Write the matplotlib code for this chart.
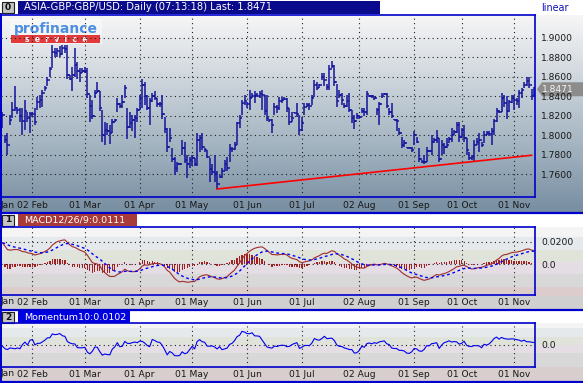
import numpy as np
import pandas as pd
import matplotlib
matplotlib.use("Agg")
import matplotlib.pyplot as plt
from matplotlib.patches import Rectangle, Polygon

plt.rcParams["font.family"] = ["DejaVu Sans"]

W, H = 583, 383

# daily GBP/USD bars, mid Jan .. mid Nov
highs = [
    1.824, 1.800, 1.802, 1.821, 1.834, 1.850, 1.829, 1.828, 1.828, 1.836,
    1.824, 1.824, 1.824, 1.828, 1.839, 1.841, 1.846, 1.850, 1.860, 1.870,
    1.893, 1.889, 1.889, 1.891, 1.893, 1.893, 1.893, 1.862, 1.870, 1.889,
    1.875, 1.869, 1.869, 1.870, 1.869, 1.841, 1.836, 1.846, 1.855, 1.845,
    1.826, 1.814, 1.812, 1.810, 1.817, 1.817, 1.838, 1.833, 1.841, 1.852,
    1.828, 1.824, 1.821, 1.821, 1.828, 1.841, 1.858, 1.855, 1.841, 1.838,
    1.843, 1.845, 1.838, 1.834, 1.841, 1.819, 1.807, 1.807, 1.787, 1.778,
    1.773, 1.771, 1.795, 1.793, 1.780, 1.778, 1.780, 1.777, 1.802, 1.800,
    1.802, 1.787, 1.785, 1.777, 1.770, 1.780, 1.763, 1.759, 1.766, 1.775,
    1.778, 1.791, 1.788, 1.793, 1.814, 1.821, 1.836, 1.841, 1.834, 1.846,
    1.843, 1.845, 1.843, 1.845, 1.846, 1.841, 1.841, 1.817, 1.817, 1.833,
    1.831, 1.839, 1.839, 1.839, 1.838, 1.828, 1.824, 1.824, 1.833, 1.821,
    1.819, 1.833, 1.833, 1.833, 1.841, 1.857, 1.855, 1.853, 1.864, 1.864,
    1.853, 1.872, 1.876, 1.872, 1.853, 1.846, 1.843, 1.833, 1.841, 1.843,
    1.826, 1.821, 1.823, 1.821, 1.828, 1.828, 1.845, 1.841, 1.841, 1.840,
    1.828, 1.834, 1.843, 1.843, 1.843, 1.828, 1.833, 1.817, 1.817, 1.807,
    1.798, 1.795, 1.788, 1.788, 1.788, 1.804, 1.798, 1.787, 1.775, 1.780,
    1.788, 1.785, 1.800, 1.797, 1.805, 1.797, 1.795, 1.792, 1.797, 1.798,
    1.807, 1.805, 1.814, 1.814, 1.807, 1.810, 1.797, 1.783, 1.780, 1.795,
    1.797, 1.802, 1.793, 1.804, 1.804, 1.804, 1.807, 1.817, 1.828, 1.826,
    1.843, 1.841, 1.840, 1.836, 1.841, 1.841, 1.838, 1.846, 1.848, 1.855,
    1.860, 1.860, 1.847, 1.849,
]
lows = [
    1.807, 1.792, 1.780, 1.810, 1.818, 1.825, 1.822, 1.814, 1.800, 1.805,
    1.814, 1.802, 1.819, 1.810, 1.826, 1.828, 1.829, 1.845, 1.850, 1.860,
    1.869, 1.880, 1.880, 1.880, 1.882, 1.884, 1.858, 1.857, 1.845, 1.860,
    1.858, 1.855, 1.864, 1.864, 1.838, 1.814, 1.817, 1.838, 1.843, 1.825,
    1.793, 1.790, 1.800, 1.791, 1.802, 1.814, 1.824, 1.828, 1.828, 1.838,
    1.796, 1.807, 1.804, 1.797, 1.814, 1.826, 1.828, 1.831, 1.826, 1.810,
    1.834, 1.836, 1.829, 1.829, 1.817, 1.802, 1.783, 1.793, 1.773, 1.759,
    1.762, 1.769, 1.780, 1.771, 1.756, 1.766, 1.768, 1.768, 1.768, 1.783,
    1.785, 1.783, 1.777, 1.752, 1.759, 1.752, 1.745, 1.756, 1.756, 1.763,
    1.763, 1.773, 1.783, 1.785, 1.790, 1.807, 1.821, 1.831, 1.828, 1.826,
    1.838, 1.833, 1.839, 1.838, 1.826, 1.821, 1.815, 1.814, 1.802, 1.821,
    1.823, 1.826, 1.833, 1.836, 1.824, 1.810, 1.814, 1.823, 1.819, 1.800,
    1.804, 1.821, 1.829, 1.826, 1.831, 1.839, 1.846, 1.848, 1.857, 1.850,
    1.846, 1.846, 1.869, 1.850, 1.829, 1.838, 1.831, 1.828, 1.829, 1.824,
    1.812, 1.806, 1.817, 1.817, 1.823, 1.820, 1.821, 1.839, 1.838, 1.836,
    1.821, 1.810, 1.838, 1.841, 1.828, 1.821, 1.818, 1.816, 1.804, 1.800,
    1.787, 1.788, 1.787, 1.787, 1.783, 1.790, 1.792, 1.773, 1.771, 1.770,
    1.773, 1.783, 1.780, 1.792, 1.792, 1.773, 1.780, 1.781, 1.787, 1.792,
    1.793, 1.800, 1.802, 1.793, 1.797, 1.793, 1.780, 1.775, 1.775, 1.773,
    1.790, 1.783, 1.788, 1.792, 1.800, 1.799, 1.790, 1.800, 1.814, 1.823,
    1.824, 1.829, 1.817, 1.824, 1.833, 1.826, 1.831, 1.828, 1.838, 1.848,
    1.850, 1.848, 1.836, 1.839,
]
closes = [
    1.821, 1.795, 1.790, 1.816, 1.826, 1.828, 1.826, 1.820, 1.815, 1.825,
    1.818, 1.822, 1.822, 1.814, 1.834, 1.836, 1.843, 1.848, 1.857, 1.868,
    1.885, 1.884, 1.886, 1.883, 1.889, 1.888, 1.862, 1.858, 1.862, 1.872,
    1.866, 1.864, 1.866, 1.866, 1.842, 1.830, 1.820, 1.843, 1.845, 1.828,
    1.800, 1.805, 1.804, 1.802, 1.814, 1.816, 1.832, 1.830, 1.834, 1.848,
    1.808, 1.812, 1.816, 1.818, 1.826, 1.838, 1.852, 1.840, 1.828, 1.835,
    1.840, 1.838, 1.832, 1.832, 1.822, 1.806, 1.788, 1.797, 1.776, 1.766,
    1.770, 1.770, 1.787, 1.775, 1.770, 1.775, 1.777, 1.770, 1.795, 1.797,
    1.788, 1.785, 1.778, 1.765, 1.762, 1.760, 1.750, 1.757, 1.763, 1.770,
    1.766, 1.786, 1.786, 1.790, 1.812, 1.818, 1.833, 1.835, 1.832, 1.838,
    1.840, 1.841, 1.840, 1.842, 1.841, 1.825, 1.818, 1.816, 1.810, 1.829,
    1.828, 1.835, 1.836, 1.837, 1.828, 1.814, 1.818, 1.823, 1.822, 1.805,
    1.812, 1.829, 1.831, 1.830, 1.838, 1.852, 1.848, 1.851, 1.860, 1.857,
    1.849, 1.868, 1.871, 1.855, 1.835, 1.841, 1.836, 1.830, 1.835, 1.826,
    1.818, 1.815, 1.820, 1.819, 1.825, 1.824, 1.842, 1.840, 1.840, 1.838,
    1.826, 1.832, 1.840, 1.842, 1.830, 1.824, 1.820, 1.816, 1.815, 1.802,
    1.790, 1.792, 1.787, 1.787, 1.785, 1.800, 1.793, 1.776, 1.773, 1.772,
    1.784, 1.784, 1.793, 1.795, 1.797, 1.776, 1.790, 1.788, 1.790, 1.796,
    1.800, 1.803, 1.810, 1.798, 1.805, 1.797, 1.785, 1.777, 1.778, 1.790,
    1.793, 1.795, 1.790, 1.800, 1.802, 1.801, 1.804, 1.815, 1.825, 1.824,
    1.838, 1.833, 1.825, 1.834, 1.838, 1.836, 1.835, 1.843, 1.846, 1.852,
    1.856, 1.851, 1.840, 1.8471,
]
# closes of the 10 sessions before the first bar (for Momentum10)
prior_closes = [1.831, 1.821, 1.821, 1.837, 1.849, 1.854, 1.847, 1.846, 1.815, 1.809]

# EMA state at the first bar (MACD 12/26/9)
seed_fast = 1.815
seed_slow = 1.795
seed_signal = 0.019

month_pos = [12, 33, 55, 76, 98, 120, 143, 165, 184, 205]
month_labels = ["02 Feb", "01 Mar", "01 Apr", "01 May", "01 Jun",
                "01 Jul", "02 Aug", "01 Sep", "01 Oct", "01 Nov"]
price_ticks = [1.76, 1.78, 1.80, 1.82, 1.84, 1.86, 1.88, 1.90]
macd_ticks = [0.0, 0.02]
trend_x = [86, 212]
trend_y = [1.7448, 1.7794]

# ---- derived series
c = pd.Series(closes)
opens = np.r_[closes[0], closes[:-1]]
ema_fast = pd.concat([pd.Series([seed_fast]), c]).ewm(span=12, adjust=False).mean().iloc[1:].values
ema_slow = pd.concat([pd.Series([seed_slow]), c]).ewm(span=26, adjust=False).mean().iloc[1:].values
macd = ema_fast - ema_slow
signal = pd.concat([pd.Series([seed_signal]), pd.Series(macd)]).ewm(span=9, adjust=False).mean().iloc[1:].values
hist = macd - signal
full = np.array(prior_closes + closes)
momentum = full[10:] - full[:-10]
idx = np.arange(len(closes))

fig = plt.figure(figsize=(W / 100, H / 100), dpi=100)


def px_axes(x0, y0, x1, y1, z=1):
    return fig.add_axes([x0 / W, 1 - y1 / H, (x1 - x0) / W, (y1 - y0) / H], zorder=z)


bg = px_axes(0, 0, W, H, z=0)
bg.set_xlim(0, W)
bg.set_ylim(H, 0)
bg.axis("off")

# gradient behind the price panel
stops_y = [15, 60, 110, 160, 213]
stops_c = ["#f6f6f6", "#dadfe4", "#b9c5cf", "#9aacba", "#768ca0"]
rgb = np.array([matplotlib.colors.to_rgb(s) for s in stops_c])
yy = np.arange(15, 213)
grad = np.stack([np.interp(yy, stops_y, rgb[:, k]) for k in range(3)], axis=1)
bg.imshow(grad[:, None, :], extent=(0, W, 213, 15), aspect="auto", zorder=0)

band_cols = ["#f4f4f4", "#e6e9ec", "#e0e3d9", "#e4dde4", "#d8d8d8", "#dccccc"]
for y0, y1, col in zip([227, 237, 250, 262, 274, 287, 296],
                       [237, 250, 262, 274, 287, 296, 309],
                       band_cols + ["#d0d0d0"]):
    bg.add_patch(Rectangle((0, y0), W, y1 - y0, color=col, lw=0, zorder=0))
for y0, y1, col in zip([323, 328, 337, 345, 353, 367],
                       [328, 337, 345, 353, 367, 381],
                       band_cols[:5] + ["#d8cece"]):
    bg.add_patch(Rectangle((0, y0), W, y1 - y0, color=col, lw=0, zorder=0))

# panel separators
for y in [213, 309.5, 381.5]:
    bg.plot([0, W], [y, y], color="#0000cc", lw=1.6, zorder=3)
bg.plot([0.5, 0.5], [14, 382], color="#0000cc", lw=1.4, zorder=3)


def header(y, num, text, face, width, size):
    bg.add_patch(Rectangle((2, y + 1), 12, 11, facecolor="#c4c4c4", edgecolor="#202020", lw=0.8, zorder=4))
    bg.text(8, y + 6.5, num, ha="center", va="center", fontsize=6.5, weight="bold", color="#101010", zorder=5)
    bg.add_patch(Rectangle((18, y), width, 12.5, facecolor=face, edgecolor="none", zorder=4))
    bg.text(24, y + 6.5, text, ha="left", va="center", fontsize=size, color="white", zorder=5)


header(1, "0", "ASIA-GBP:GBP/USD: Daily (07:13:18) Last: 1.8471", "#0a0a8c", 362, 7.2)
header(213.5, "1", "MACD12/26/9:0.0111", "#a83a3a", 119, 6.8)
header(310.5, "2", "Momentum10:0.0102", "#0000e0", 112, 6.8)
bg.text(541, 8, "linear", fontsize=6.9, color="#1010c0", va="center", ha="left")

# profinance logo
bg.add_patch(Rectangle((10, 19), 92, 25, facecolor="white", alpha=0.45, lw=0, zorder=4))
bg.text(56, 28.5, "profinance", fontsize=10, weight="bold", color="#4d8ee0",
        ha="center", va="center", zorder=5)
bg.add_patch(Rectangle((11, 35), 89, 8, facecolor="#e23a3a", lw=0, zorder=4))
bg.text(56, 39.2, "s  e  r  v  i  c  e", fontsize=5.5, weight="bold", color="white",
        ha="center", va="center", zorder=5)


def style(ax, ticks, labels, ylim, pad_x):
    ax.set_facecolor("none")
    ax.set_xlim(-0.6, len(closes) - 0.6)
    ax.set_ylim(*ylim)
    for s in ax.spines.values():
        s.set_color("#0000cc")
        s.set_linewidth(1.2)
    ax.yaxis.tick_right()
    ax.set_yticks(ticks)
    ax.set_yticklabels(labels)
    ax.set_xticks(month_pos)
    ax.set_xticklabels(month_labels)
    ax.tick_params(length=0, labelsize=6.6, labelcolor="#181818")
    ax.tick_params(axis="y", pad=4.5)
    ax.tick_params(axis="x", pad=pad_x)
    ax.grid(True, linestyle=(0, (1, 3)), color="#202020", lw=0.8)
    ax.set_axisbelow(True)


# ---- price panel
ax = px_axes(1, 15, 535, 197)
price_lim = (1.7366, 1.9233)
style(ax, price_ticks, [f"{v:.4f}" for v in price_ticks], price_lim, 3.0)
ax.vlines(idx, lows, highs, color="#14149a", lw=1.1)
ax.hlines(closes, idx, idx + 0.55, color="#14149a", lw=1.1)
ax.hlines(opens, idx - 0.55, idx, color="#14149a", lw=1.1)
ax.plot(trend_x, trend_y, color="#ff0000", lw=1.2)
bg.text(1, 205, "Jan", fontsize=6.6, color="#181818", va="center", ha="left")

# last price tag
ty = 15 + (price_lim[1] - closes[-1]) / (price_lim[1] - price_lim[0]) * 182
bg.add_patch(Polygon([(537, ty), (542, ty - 7), (583, ty - 7), (583, ty + 7), (542, ty + 7)],
                     closed=True, facecolor="#8c8c8c", edgecolor="none", zorder=6))
bg.text(542, ty, f"{closes[-1]:.4f}", fontsize=6.6, color="#f4f4f4", va="center", ha="left", zorder=7)

# ---- MACD panel
mx = px_axes(1, 227, 535, 295)
style(mx, macd_ticks, ["0.0", "0.0200"], (-0.0272, 0.033), 2.5)
mx.bar(idx, hist, width=0.5, color="#a02020", lw=0)
mx.plot(idx, macd, color="#a02c2c", lw=0.8)
mx.plot(idx, signal, color="#0000ff", lw=1.0, linestyle=(0, (2, 2)))
bg.text(1, 302, "Jan", fontsize=6.6, color="#181818", va="center", ha="left")

# ---- Momentum panel
ox = px_axes(1, 323, 535, 367)
style(ox, [0.0], ["0.0"], (-0.14, 0.135), 2.5)
ox.plot(idx, momentum, color="#0000ee", lw=0.8)
bg.text(1, 374, "Jan", fontsize=6.6, color="#181818", va="center", ha="left")

fig.savefig("out.png", dpi=100)
